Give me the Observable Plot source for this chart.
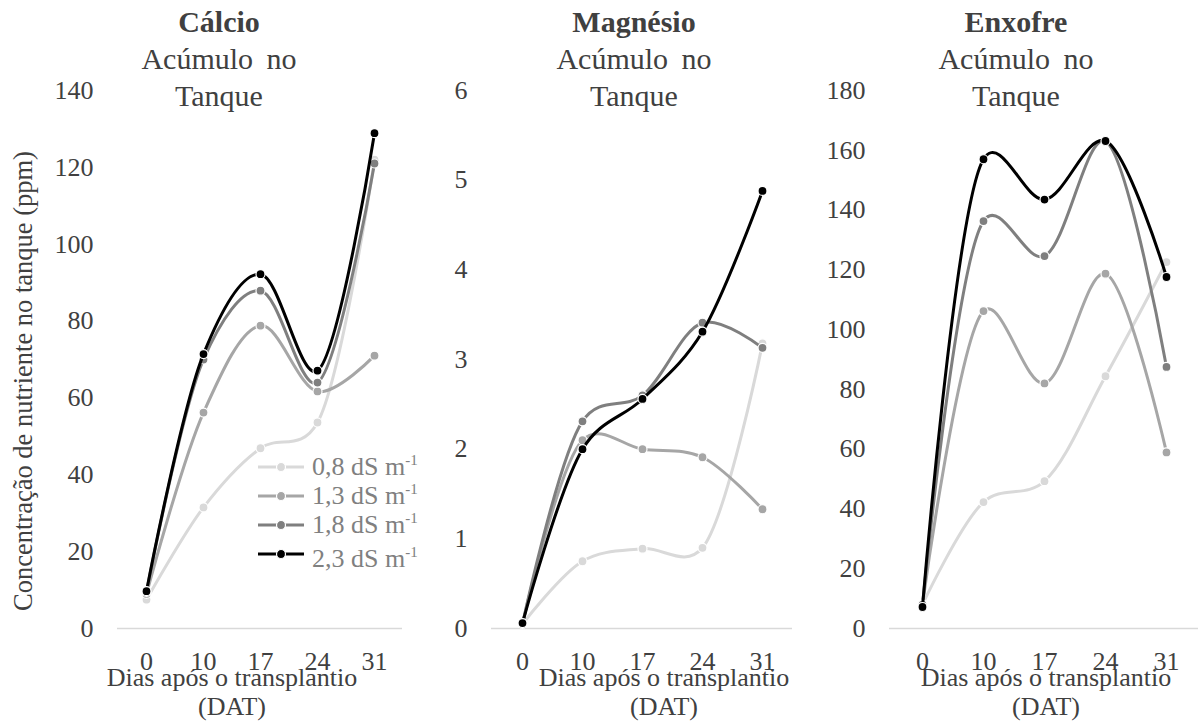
<!DOCTYPE html>
<html>
<head>
<meta charset="utf-8">
<script src="https://cdn.jsdelivr.net/npm/d3@7"></script>
<script src="https://cdn.jsdelivr.net/npm/@observablehq/plot@0.6"></script>
<style>
  html, body { margin: 0; padding: 0; background: #fff; }
  #wrap { position: relative; width: 1198px; height: 724px; overflow: hidden; color: #404040; }
  .panel { position: absolute; top: 0; }
  .title { position: absolute; top: 3px; transform: translateX(-50%); text-align: center; font-size: 30px; line-height: 37px; white-space: nowrap; word-spacing: 6px; }
  .title b { font-weight: bold; word-spacing: 0; }
  .xlab { position: absolute; top: 663px; transform: translateX(-50%); text-align: center; font-size: 26px; line-height: 29px; white-space: nowrap; }
  .ylab { position: absolute; left: 23px; top: 381px; transform: translate(-50%, -50%) rotate(-90deg); font-size: 26.5px; white-space: nowrap; }
  .legend { position: absolute; left: 258px; top: 452px; font-size: 26px; color: #808080; line-height: 29px; }
  .legend .row { display: flex; align-items: center; height: 29px; white-space: nowrap; }
  .legend svg { margin-right: 8px; }
  .legend sup { font-size: 15px; vertical-align: 10px; line-height: 0; }
  .legend .row.last span { position: relative; top: 5px; }
</style>
</head>
<body>
<div id="wrap" style="font-family:'Liberation Serif'"></div>
<script>
// ---- data ----
const days = ["0", "10", "17", "24", "31"];
const series = ["0,8 dS m-1", "1,3 dS m-1", "1,8 dS m-1", "2,3 dS m-1"];
const seriesLabels = ["0,8 dS m", "1,3 dS m", "1,8 dS m", "2,3 dS m"];
const colors = ["#d9d9d9", "#a6a6a6", "#7f7f7f", "#000000"];

// Cálcio (ppm)
const ca08 = [7.5, 31.5, 46.9, 53.6, 122];
const ca13 = [9, 56.2, 78.8, 61.7, 71];
const ca18 = [9.5, 70, 87.9, 64, 121];
const ca23 = [9.7, 71.4, 92.2, 67.1, 128.9];
const caTicks = [0, 20, 40, 60, 80, 100, 120, 140];

// Magnésio (ppm)
const mg08 = [0.05, 0.75, 0.89, 0.9, 3.18];
const mg13 = [0.05, 2.1, 2.0, 1.91, 1.33];
const mg18 = [0.05, 2.31, 2.6, 3.41, 3.13];
const mg23 = [0.06, 2.0, 2.56, 3.31, 4.88];
const mgTicks = [0, 1, 2, 3, 4, 5, 6];

// Enxofre (ppm)
const s08 = [8, 42.3, 49.3, 84.4, 122.6];
const s13 = [8, 106.2, 82, 118.7, 58.9];
const s18 = [8, 136.3, 124.6, 163, 87.5];
const s23 = [7.2, 157, 143.5, 163.1, 117.6];
const sTicks = [0, 20, 40, 60, 80, 100, 120, 140, 160, 180];

const titles = ["Cálcio", "Magnésio", "Enxofre"];
const subtitle = ["Acúmulo no", "Tanque"];
const xLabel = ["Dias após o transplantio", "(DAT)"];
const yLabel = "Concentração de nutriente no tanque (ppm)";

const FONT = "'Liberation Serif'";
const smooth = d3.curveCatmullRom.alpha(0.25);

// ---- drawing ----
const wrap = document.getElementById("wrap");

function setFont(el) {
  el.style.fontFamily = FONT;
  el.querySelectorAll("*").forEach(n => { n.style.fontFamily = FONT; n.setAttribute("font-family", "Liberation Serif"); });
}

function buildPanel(vals, ticks, cfg) {
  const data = [];
  series.forEach((s, i) => days.forEach((d, j) => data.push({day: d, v: vals[i][j], s})));
  const marks = [Plot.ruleY([0], {stroke: "#d9d9d9", strokeWidth: 1.5})];
  series.forEach(s => {
    const sub = data.filter(d => d.s === s);
    marks.push(Plot.line(sub, {x: "day", y: "v", stroke: "s", strokeWidth: 3, curve: smooth}));
    marks.push(Plot.dot(sub, {x: "day", y: "v", fill: "s", stroke: "white", strokeWidth: 1.2, r: 4.5}));
  });
  const svg = Plot.plot({
    width: cfg.width,
    height: 724,
    marginTop: 90,
    marginBottom: 96,
    marginLeft: cfg.mL,
    marginRight: cfg.mR,
    style: {fontFamily: FONT, fontSize: "26px", color: "#404040", background: "transparent", overflow: "visible"},
    x: {type: "point", domain: days, padding: 0.5, label: null, tickSize: 0, tickPadding: 23},
    y: {domain: [0, ticks[ticks.length - 1]], ticks: ticks, tickFormat: d => String(d), tickSize: 0, tickPadding: 24, label: null},
    color: {domain: series, range: colors},
    marks
  });
  svg.setAttribute("font-family", "Liberation Serif");
  const holder = document.createElement("div");
  holder.className = "panel";
  holder.style.left = cfg.left + "px";
  holder.appendChild(svg);
  wrap.appendChild(holder);
  setFont(holder);
}

buildPanel([ca08, ca13, ca18, ca23], caTicks, {left: 0, width: 420, mL: 117, mR: 18});
buildPanel([mg08, mg13, mg18, mg23], mgTicks, {left: 420, width: 380, mL: 71, mR: 8});
buildPanel([s08, s13, s18, s23], sTicks, {left: 800, width: 398, mL: 89, mR: 0});

// titles
const titleX = [219, 634, 1016];
titles.forEach((t, i) => {
  const div = document.createElement("div");
  div.className = "title";
  div.style.left = titleX[i] + "px";
  div.innerHTML = `<b>${t}</b><br>${subtitle[0]}<br>${subtitle[1]}`;
  wrap.appendChild(div);
  setFont(div);
});

// x labels
const xLabX = [232, 664, 1046];
xLabX.forEach(x => {
  const div = document.createElement("div");
  div.className = "xlab";
  div.style.left = x + "px";
  div.innerHTML = `${xLabel[0]}<br>${xLabel[1]}`;
  wrap.appendChild(div);
  setFont(div);
});

// y label
const yl = document.createElement("div");
yl.className = "ylab";
yl.textContent = yLabel;
wrap.appendChild(yl);
setFont(yl);

// legend
const leg = document.createElement("div");
leg.className = "legend";
series.forEach((s, i) => {
  const row = document.createElement("div");
  row.className = i === series.length - 1 ? "row last" : "row";
  const c = colors[i];
  row.innerHTML = `<svg width="46" height="12"><line x1="0" x2="46" y1="6" y2="6" stroke="${c}" stroke-width="3"/><circle cx="23" cy="6" r="4.5" fill="${c}" stroke="white" stroke-width="1.2"/></svg><span>${seriesLabels[i]}<sup>-1</sup></span>`;
  leg.appendChild(row);
});
wrap.appendChild(leg);
setFont(leg);
</script>
</body>
</html>
